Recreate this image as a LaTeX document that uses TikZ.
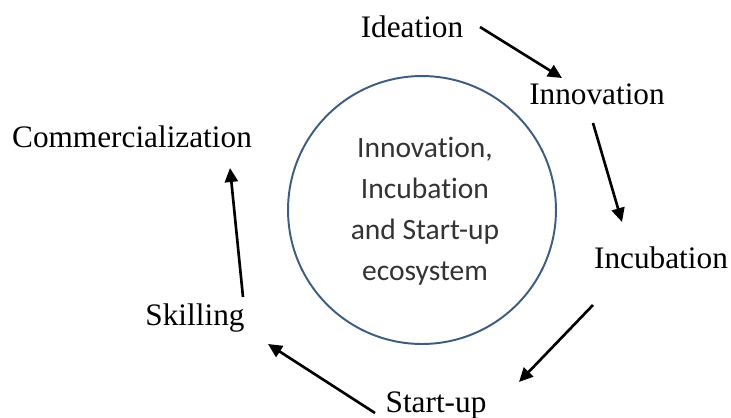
\documentclass[tikz,border=0pt]{standalone}
\usepackage{fontspec}
\setmainfont{Liberation Serif}
\newfontfamily\calib[Ligatures=NoCommon]{Carlito}
\usetikzlibrary{arrows.meta}
\definecolor{ringblue}{HTML}{3E5C7E}

\begin{document}
\begin{tikzpicture}[x=0.02cm, y=-0.02cm, >={Triangle[length=0.28cm, width=0.26cm]},
    stage/.style={anchor=base, inner sep=0pt, font=\fontsize{17.8}{20}\selectfont},
    flow/.style={->, line width=1.5pt}]
    \useasboundingbox (0,0) rectangle (731,417);
    \node [circle, draw=ringblue, line width=1.1pt, minimum size=5.36cm] (ring) at (422, 210) {};
    \node [align=center, text=black!80, font=\calib\fontsize{16.8}{23.3}\selectfont] (core) at (425, 211)
        {Innovation,\\Incubation\\and Start-up\\ecosystem};
    \node [stage] (ideation) at (412, 37) {Ideation};
    \node [stage] (innovation) at (597, 104) {Innovation};
    \node [stage] (incubation) at (661, 268) {Incubation};
    \node [stage] (startup) at (436, 412) {Start-up};
    \node [stage] (skilling) at (195, 325) {Skilling};
    \node [stage] (commerce) at (132, 147) {Commercialization};
    \coordinate (ideaout) at (480, 27);
    \coordinate (innoin) at (562, 78);
    \coordinate (innoout) at (593, 123);
    \coordinate (incuin) at (622, 222);
    \coordinate (incuout) at (593, 305);
    \coordinate (startin) at (519, 382);
    \coordinate (startout) at (375, 413);
    \coordinate (skillin) at (268, 344);
    \coordinate (skillout) at (243, 297);
    \coordinate (commin) at (230, 168);
    \draw [flow] (ideaout) -- (innoin);
    \draw [flow] (innoout) -- (incuin);
    \draw [flow] (incuout) -- (startin);
    \draw [flow] (startout) -- (skillin);
    \draw [flow] (skillout) -- (commin);
\end{tikzpicture}
\end{document}
